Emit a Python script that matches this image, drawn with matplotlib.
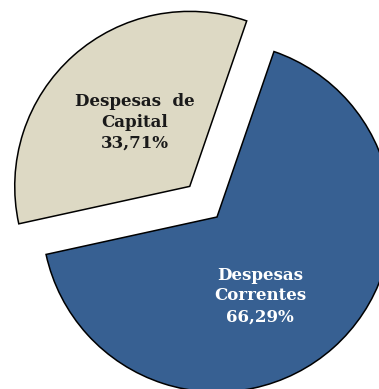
import matplotlib
matplotlib.use("Agg")
import matplotlib.pyplot as plt

# Despesas por categoria econômica (%)
categorias = ["Despesas  de\nCapital", "Despesas\nCorrentes"]
valores = [33.71, 66.29]
cores = ["#DDD9C4", "#376092"]
cores_texto = ["#1a1a1a", "#ffffff"]

fig = plt.figure(figsize=(3.79, 3.89), dpi=100)
ax = fig.add_axes([0, 0, 1, 1])

# eixo em pixels: centro e raio da pizza
cx, cy, raio = 217, 172, 175
# o deslocamento do explode é em unidades de dados (px aqui)
explode = [41, 0]

wedges, _ = ax.pie(valores, colors=cores, explode=explode, startangle=71,
                   counterclock=True, center=(cx, cy), radius=raio,
                   wedgeprops=dict(edgecolor="black", linewidth=1.1))

ax.set_xlim(0, 379)
ax.set_ylim(0, 389)
ax.set_aspect("auto")
ax.axis("off")

# posições dos rótulos (px)
pos_rotulos = [(135, 389 - 122), (260, 389 - 296)]
for cat, v, (x, y), c in zip(categorias, valores, pos_rotulos, cores_texto):
    texto = f"{cat}\n{v:.2f}%".replace(".", ",")
    ax.text(x, y, texto, ha="center", va="center", color=c,
            fontsize=12, fontweight="bold", family="DejaVu Serif",
            linespacing=1.3)

fig.savefig("out.png", dpi=100)
